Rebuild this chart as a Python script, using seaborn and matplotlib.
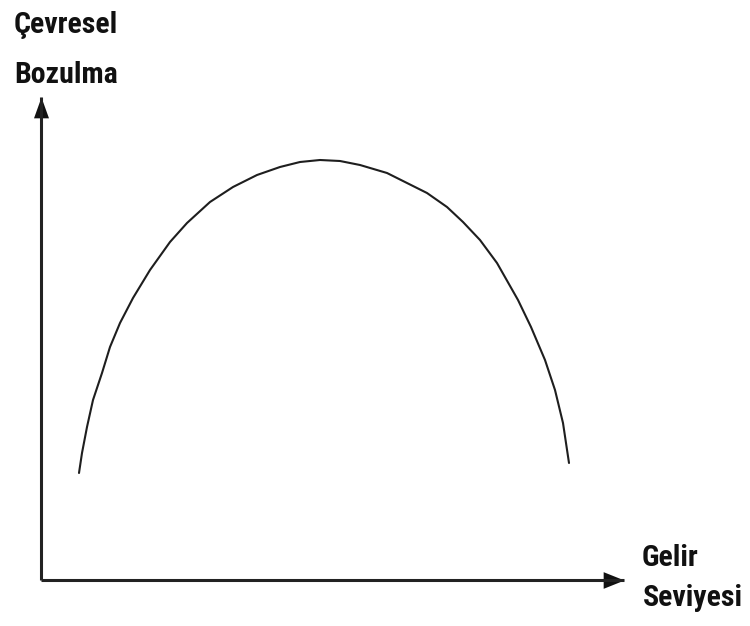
import matplotlib
matplotlib.use("Agg")
import matplotlib.pyplot as plt
import seaborn as sns
import pandas as pd
from matplotlib import font_manager

# Environmental Kuznets curve
gelir = [39, 42, 47, 53, 62, 70, 80, 93, 110, 130, 147, 170, 193, 217, 240, 260,
         280, 300, 320, 347, 367, 387, 407, 423, 440, 457, 478, 491, 505, 515, 523, 529]
bozulma = [107, 127, 153, 180, 207, 233, 257, 282, 310, 338, 357, 378, 393, 405, 413, 418,
           420, 419, 415, 407, 397, 387, 373, 358, 340, 317, 280, 253, 220, 190, 157, 117]

y_label = ["Çevresel", "Bozulma"]
x_label = ["Gelir", "Seviyesi"]

sns.set_style("white")
names = {f.name for f in font_manager.fontManager.ttflist}
fam = [n for n in ["Liberation Sans Narrow", "Roboto Condensed", "Open Sans Condensed",
                   "DejaVu Sans"] if n in names] or ["DejaVu Sans"]
plt.rcParams["font.family"] = fam + ["DejaVu Sans"]

W, H = 750, 626
fig = plt.figure(figsize=(W / 100, H / 100), dpi=100)
x0, y0, x1, y1 = 41, 580, 624, 97
ax = fig.add_axes([x0 / W, (H - y0) / H, (x1 - x0) / W, (y0 - y1) / H])

df = pd.DataFrame({"gelir": gelir, "bozulma": bozulma})
sns.lineplot(data=df, x="gelir", y="bozulma", ax=ax, color="#1e1e1e",
             linewidth=1.5, sort=False, estimator=None)

ax.set_xlim(1, 1 + (x1 - x0))
ax.set_ylim(0, y0 - y1)
ax.set_xticks([])
ax.set_yticks([])
ax.set_xlabel("")
ax.set_ylabel("")
for s in ["top", "right"]:
    ax.spines[s].set_visible(False)
for s in ["left", "bottom"]:
    ax.spines[s].set_linewidth(2.2)
    ax.spines[s].set_color("#222222")
    ax.spines[s].set_capstyle("butt")

# arrow heads (tip at the end of each axis)
up = [(0, 0), (-0.36, -1), (0.36, -1), (0, 0)]
right = [(0, 0), (-1, 0.4), (-1, -0.4), (0, 0)]
ax.plot(0, 1, marker=up, color="#111111", markersize=30, markeredgewidth=0,
        transform=ax.transAxes, clip_on=False)
ax.plot(1, 0, marker=right, color="#111111", markersize=30, markeredgewidth=0,
        transform=ax.transAxes, clip_on=False)

kw = dict(ha="left", va="baseline", fontsize=21.5, fontweight="bold", color="#111111",
          fontstretch="condensed")
fig.text(14 / W, 1 - 33 / H, y_label[0], **kw)
fig.text(14 / W, 1 - 83 / H, y_label[1], **kw)
fig.text(642 / W, 1 - 566 / H, x_label[0], **kw)
fig.text(643 / W, 1 - 606 / H, x_label[1], **kw)

fig.savefig("out.png", dpi=100, facecolor="white")
